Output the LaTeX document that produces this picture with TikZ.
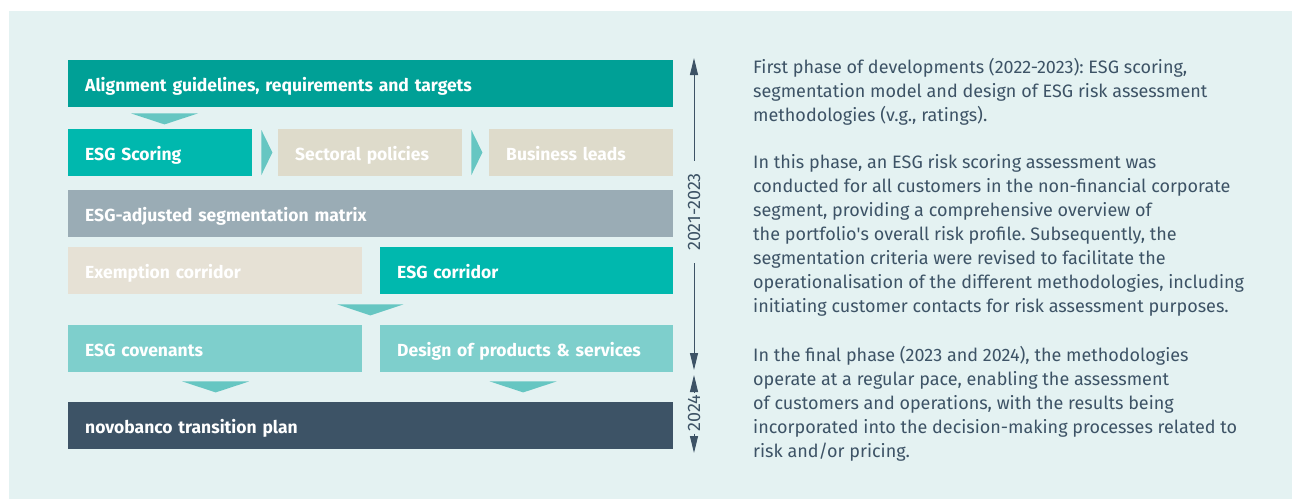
\documentclass[tikz,border=0pt]{standalone}
\usepackage{fontspec}
\setmainfont{Fira Sans}
\frenchspacing
\usetikzlibrary{positioning,calc,arrows.meta}
\definecolor{panel}{HTML}{E4F2F2}
\definecolor{teal}{HTML}{00A096}
\definecolor{aqua}{HTML}{00B8AE}
\definecolor{mint}{HTML}{7ECFCC}
\definecolor{pointerc}{HTML}{66C6C2}
\definecolor{sand}{HTML}{DEDBCB}
\definecolor{sandlight}{HTML}{E6E1D5}
\definecolor{greyblue}{HTML}{9AACB5}
\definecolor{slate}{HTML}{3D5366}
\tikzset{
  stagebox/.style={anchor=north west,minimum height=47pt,inner xsep=17pt,inner ysep=0pt,
    text height=16pt,text depth=0pt,text=white,align=left,font=\bfseries\fontsize{17.5}{20}\selectfont},
  pointer/.style={fill=pointerc},
  yearlab/.style={rotate=90,text=slate,inner ysep=0pt,font=\fontsize{18}{20}\selectfont},
  timeline/.style={draw=slate,line width=1pt,-{Triangle[length=17pt,width=8pt]}},
  para/.style={anchor=north west,align=left,inner sep=0pt,text=slate,font=\fontsize{18}{24}\selectfont}
}
\begin{document}
\begin{tikzpicture}[x=1pt,y=-1pt]
\useasboundingbox (0,0) rectangle (1292,499);
\fill[panel] (9,11) rectangle (1292,499);
% stages
\node[stagebox,fill=teal,text width=571pt] (align) at (68,60) {Alignment guidelines, requirements and targets};
\node[stagebox,fill=aqua,text width=150pt] (scoring) at (68,129) {ESG Scoring};
\node[stagebox,fill=sand,text width=150pt] (sectoral) at (278,129) {Sectoral policies};
\node[stagebox,fill=sand,text width=150pt] (leads) at (489,129) {Business leads};
\node[stagebox,fill=greyblue,text width=571pt] (matrix) at (68,190) {ESG-adjusted segmentation matrix};
\node[stagebox,fill=sandlight,text width=260pt] (exempt) at (68,247) {Exemption corridor};
\node[stagebox,fill=aqua,text width=259pt] (corridor) at (380,247) {ESG corridor};
\node[stagebox,fill=mint,text width=260pt] (covenants) at (68,325) {ESG covenants};
\node[stagebox,fill=mint,text width=259pt] (design) at (380,325) {Design of products \& services};
\node[stagebox,fill=slate,text width=571pt] (plan) at (68,402) {novobanco transition plan};
% pointers between stages
\fill[pointer] ($(align.south west)+(63,6)$) -- ++(67,0) -- ++(-33.5,11) -- cycle;
\fill[pointer] ($(scoring.north east)+(9,1)$) -- ++(11,22.5) -- ++(-11,22.5) -- cycle;
\fill[pointer] ($(sectoral.north east)+(9,1)$) -- ++(11,22.5) -- ++(-11,22.5) -- cycle;
\fill[pointer] ($(exempt.south east)+(-25,10)$) -- ++(66,0) -- ++(-33,11) -- cycle;
\fill[pointer] ($(covenants.south)+(-33,9)$) -- ++(67,0) -- ++(-33.5,11) -- cycle;
\fill[pointer] ($(design.south)+(-37,9)$) -- ++(67,0) -- ++(-33.5,11) -- cycle;
% timeline
\coordinate (topA) at (694,58);
\coordinate (botA) at (694,370);
\coordinate (topB) at (694,375);
\coordinate (botB) at (694,453);
\node[yearlab,inner xsep=12pt] (yrA) at (694,212) {2021-2023};
\node[yearlab,inner xsep=2pt] (yrB) at (694,413) {2024};
\draw[timeline] (yrA.east) -- (topA);
\draw[timeline] (yrA.west) -- (botA);
\draw[timeline] (yrB.east) -- (topB);
\draw[timeline] (yrB.west) -- (botB);
% description
\node[para] (p1) at (753,58) {First phase of developments (2022-2023): ESG scoring,\\segmentation model and design of ESG risk assessment\\methodologies (v.g., ratings).};
\node[para] (p2) at (753,154) {In this phase, an ESG risk scoring assessment was\\conducted for all customers in the non-financial corporate\\segment, providing a comprehensive overview of\\the portfolio\textquotesingle s overall risk profile. Subsequently, the\\segmentation criteria were revised to facilitate the\\operationalisation of the different methodologies, including\\initiating customer contacts for risk assessment purposes.};
\node[para] (p3) at (753,346) {In the final phase (2023 and 2024), the methodologies\\operate at a regular pace, enabling the assessment\\of customers and operations, with the results being\\incorporated into the decision-making processes related to\\risk and/or pricing.};
\end{tikzpicture}
\end{document}
